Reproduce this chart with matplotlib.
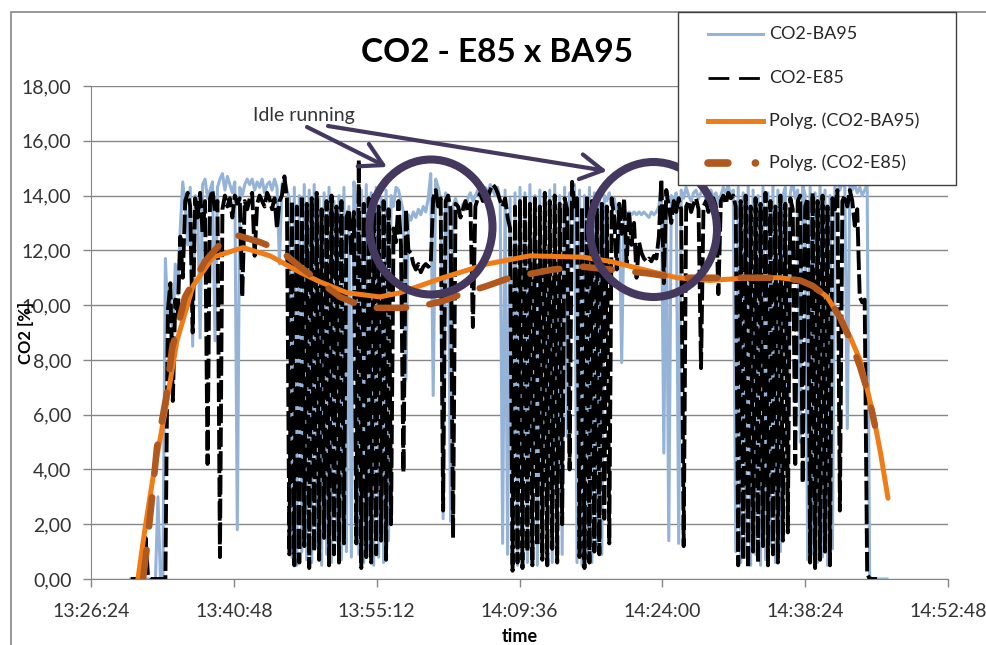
import numpy as np
import matplotlib
matplotlib.use("Agg")
import matplotlib.pyplot as plt
from matplotlib.ticker import FixedLocator, FuncFormatter, MultipleLocator
from matplotlib.patches import Ellipse, Rectangle, FancyArrowPatch
from matplotlib.lines import Line2D

plt.rcParams['font.family'] = ['Lato', 'DejaVu Sans']

# logger samples: one reading every 15 s starting 13:30:24
SAMPLE_START = "13:30:24"
SAMPLE_STEP = 15

# CO2 [%] with BA95 fuel
co2_ba95 = [
    0, 0, 0, 0, 0, 0, 0, 0, 0, 0, 0, 3.0,
    0, 0.1, 11.7, 9.5, 10.2, 8.9, 11.5, 10.4, 12.8, 14.5, 13.6, 12.2,
    14.3, 8.5, 14.0, 13.7, 8.8, 14.4, 14.6, 13.9, 14.2, 14.5, 8.7, 14.3,
    14.6, 14.8, 14.2, 14.7, 14.4, 14.1, 14.5, 1.8, 14.3, 14.0, 14.4, 14.6,
    14.4, 14.6, 14.2, 14.5, 14.3, 14.6, 14.1, 14.4, 14.5, 14.2, 14.6, 14.3,
    11.5, 14.4, 14.6, 14.2, 13.9, 0.8, 14.3, 0.5, 14.0, 1.0, 14.4, 0.7,
    14.2, 0.6, 14.4, 1.2, 13.9, 0.5, 14.1, 0.9, 14.3, 0.6, 13.8, 1.4,
    14.0, 0.7, 14.3, 1.0, 13.6, 0.8, 14.5, 13.8, 0.9, 14.2, 0.6, 14.4,
    1.1, 14.1, 0.5, 14.3, 0.8, 13.9, 0.6, 14.2, 1.4, 14.0, 13.6, 14.3,
    14.2, 13.8, 13.4, 7.3, 13.3, 13.1, 13.4, 13.2, 13.5, 13.3, 13.6, 13.4,
    13.9, 14.8, 6.7, 14.6, 14.3, 13.9, 2.2, 14.1, 13.8, 2.1, 13.6, 13.9,
    13.6, 13.4, 13.7, 13.5, 13.9, 14.1, 13.8, 14.0, 14.2, 13.9, 14.1, 14.3,
    14.1, 14.4, 14.2, 14.0, 14.3, 13.8, 1.3, 14.2, 0.9, 13.9, 0.7, 14.1,
    0.5, 14.3, 1.0, 14.1, 0.6, 14.4, 0.8, 14.0, 0.5, 14.2, 1.1, 13.9,
    0.7, 14.2, 0.6, 14.4, 1.0, 14.0, 0.9, 14.3, 5.2, 14.1, 13.8, 14.4,
    0.6, 14.2, 0.5, 14.0, 0.8, 14.3, 0.6, 14.1, 1.2, 14.2, 0.9, 14.0,
    13.8, 14.1, 13.6, 13.9, 13.4, 13.7, 7.9, 13.5, 13.3, 13.4, 13.3, 13.4,
    13.3, 13.4, 13.3, 13.4, 13.3, 13.2, 13.4, 13.3, 13.4, 13.6, 14.4, 4.6,
    14.2, 1.4, 14.0, 13.8, 14.1, 1.3, 14.2, 13.9, 14.3, 14.0, 13.8, 14.1,
    14.2, 13.9, 14.1, 14.3, 13.8, 14.0, 14.2, 13.9, 14.1, 13.7, 14.0, 14.3,
    14.1, 14.4, 13.9, 14.2, 1.0, 14.3, 0.6, 14.1, 0.8, 14.4, 0.5, 14.2,
    0.9, 14.0, 0.5, 14.3, 0.7, 14.1, 1.2, 14.4, 0.6, 14.2, 1.0, 14.0,
    14.3, 2.0, 14.1, 14.5, 13.9, 14.2, 5.0, 14.4, 14.0, 0.7, 14.3, 0.9,
    14.1, 0.6, 14.4, 0.8, 14.2, 0.5, 14.0, 1.1, 14.3, 14.6, 14.2, 14.5,
    14.3, 5.5, 14.6, 14.2, 14.4, 14.1, 14.3, 14.0, 14.2, 14.4, 0.1, 0.0,
    0, 0, 0, 0, 0, 0,
]

# CO2 [%] with E85 fuel
co2_e85 = [
    0, 0, 0, 0, 0, 0, 1.5, 0.1, 0, 0, 0, 0,
    0, 0, 0, 9.8, 10.8, 6.5, 10.2, 9.6, 12.5, 11.0, 13.8, 14.1,
    13.6, 9.0, 13.9, 13.2, 14.1, 12.6, 13.8, 4.2, 13.9, 14.2, 13.4, 13.8,
    0.8, 13.5, 14.0, 13.6, 13.9, 13.2, 14.0, 13.7, 13.9, 10.3, 13.8, 13.5,
    13.9, 14.1, 11.8, 13.7, 14.0, 13.8, 13.6, 14.1, 13.9, 13.5, 13.9, 12.8,
    13.8, 14.0, 14.7, 13.9, 0.9, 13.8, 0.5, 13.6, 0.6, 14.0, 1.2, 13.7,
    0.4, 13.9, 1.0, 14.1, 0.7, 13.5, 1.5, 13.8, 0.5, 14.0, 0.9, 13.6,
    0.6, 13.8, 1.3, 13.2, 13.5, 11.8, 13.4, 1.3, 15.3, 0.4, 13.7, 0.8,
    13.9, 0.6, 14.0, 0.9, 13.6, 1.4, 13.8, 0.7, 13.5, 2.0, 12.8, 12.3,
    13.8, 12.2, 3.9, 13.5, 12.0, 11.9, 11.5, 11.3, 11.5, 11.2, 11.4, 11.5,
    11.4, 11.5, 13.9, 14.2, 13.6, 13.9, 2.5, 13.8, 14.0, 13.5, 1.5, 13.7,
    13.6, 13.2, 13.5, 13.8, 13.4, 13.7, 9.2, 13.6, 13.9, 14.1, 13.8, 14.2,
    13.9, 14.2, 14.4, 14.3, 14.1, 13.8, 13.6, 13.9, 13.2, 12.8, 0.3, 13.6,
    0.6, 13.8, 0.4, 14.0, 1.0, 13.7, 0.5, 13.9, 1.2, 13.6, 0.7, 14.1,
    0.5, 13.8, 1.1, 14.0, 0.6, 13.7, 2.0, 13.9, 13.5, 4.0, 14.5, 13.6,
    13.9, 0.8, 13.6, 0.4, 14.0, 0.6, 13.8, 1.0, 13.5, 0.9, 13.7, 2.2,
    13.6, 1.3, 13.9, 13.2, 11.3, 13.7, 12.6, 13.9, 11.5, 13.4, 12.2, 13.0,
    11.0, 12.3, 11.9, 11.7, 11.6, 11.7, 11.6, 11.8, 11.7, 12.5, 14.6, 10.8,
    14.2, 13.6, 13.0, 13.8, 13.4, 13.9, 13.5, 1.2, 13.6, 13.8, 13.4, 13.7,
    13.9, 13.5, 7.7, 13.6, 13.8, 13.4, 13.7, 13.9, 13.6, 10.4, 13.8, 14.0,
    13.7, 14.1, 13.9, 14.0, 13.6, 0.5, 13.8, 0.7, 14.0, 0.4, 13.6, 1.0,
    13.9, 0.6, 13.7, 1.2, 14.1, 0.5, 13.8, 0.9, 13.6, 0.6, 14.0, 1.4,
    13.7, 1.7, 13.9, 13.5, 4.2, 13.8, 14.0, 3.5, 13.6, 13.9, 0.6, 14.1,
    0.4, 13.8, 0.7, 14.0, 1.0, 13.6, 0.5, 13.9, 13.5, 14.2, 2.5, 13.8,
    14.0, 13.6, 14.2, 13.8, 12.9, 13.5, 10.3, 10.1, 10.2, 0.2, 0.0, 0.0,
    0.0, 0.0,
]

# polynomial trendlines, seconds after 13:26:24
trend_ba95_t = [284, 327, 375, 448, 520, 617, 738, 919, 1083, 1264, 1385,
                1549, 1748, 1869, 2129, 2395, 2656, 2976, 3139, 3339, 3545,
                3745, 3986, 4168, 4289, 4367, 4452, 4531, 4591, 4652, 4730,
                4776, 4821]
trend_ba95 = [0.0, 1.85, 3.7, 6.1, 8.7, 10.7, 11.75, 12.1, 11.8, 11.2, 10.85,
              10.45, 10.3, 10.45, 11.0, 11.5, 11.8, 11.75, 11.6, 11.3, 11.0,
              10.9, 11.0, 11.0, 10.9, 10.7, 10.3, 9.55, 8.85, 8.0, 6.05,
              4.6, 2.95]

trend_e85_t = [315, 339, 363, 399, 454, 490, 569, 690, 792, 883, 1022, 1143,
               1264, 1385, 1506, 1627, 1730, 1869, 1990, 2129, 2262, 2395,
               2535, 2795, 2976, 3139, 3381, 3545, 3805, 3986, 4168, 4289,
               4367, 4452, 4531, 4591, 4652, 4700, 4742]
trend_e85 = [0.0, 1.2, 2.6, 4.8, 6.6, 8.4, 10.3, 11.6, 12.3, 12.55, 12.3, 12.0,
             11.4, 10.85, 10.3, 10.0, 9.9, 9.9, 9.95, 10.15, 10.45, 10.7,
             11.0, 11.3, 11.4, 11.3, 11.15, 11.0, 11.0, 11.0, 11.0, 10.9,
             10.7, 10.3, 9.55, 8.75, 7.75, 6.8, 5.6]

time_tick_labels = ["13:26:24", "13:40:48", "13:55:12", "14:09:36",
                    "14:24:00", "14:38:24", "14:52:48"]

purple = '#45385f'
blue = '#95b3d7'
orange = '#f07c17'
brown = '#b0581e'
grey = '#868686'


def to_seconds(hms):
    h, m, s = (int(p) for p in hms.split(':'))
    return h * 3600 + m * 60 + s


def fmt_time(sec, pos=None):
    sec = int(round(sec))
    return f"{sec // 3600}:{sec % 3600 // 60:02d}:{sec % 60:02d}"


W, H = 987, 645


def fx(x):
    return x / W


def fy(y):
    return 1 - y / H


tick_pos = [to_seconds(s) for s in time_tick_labels]
t0 = tick_pos[0]
start = to_seconds(SAMPLE_START)
t_ba95 = start + SAMPLE_STEP * np.arange(len(co2_ba95))
t_e85 = start + SAMPLE_STEP * np.arange(len(co2_e85))

fig = plt.figure(figsize=(W / 100, H / 100), dpi=100)
ax = fig.add_axes([fx(91), fy(579), (948 - 91) / W, (579 - 86) / H])

ax.plot(t_ba95, co2_ba95, color=blue, lw=2.2, zorder=2)
ax.plot(t_e85, co2_e85, color='black', lw=2.8, dashes=(5, 1.1), zorder=3)
ax.plot(t0 + np.array(trend_ba95_t), trend_ba95, color=orange, lw=3.6,
        solid_capstyle='round', zorder=4)
ax.plot(t0 + np.array(trend_e85_t), trend_e85, color=brown, lw=4.7,
        dashes=(4.5, 3.6), dash_capstyle='round', zorder=5)

ax.set_xlim(tick_pos[0], tick_pos[-1])
ax.set_ylim(0, 18)
ax.xaxis.set_major_locator(FixedLocator(tick_pos))
ax.xaxis.set_major_formatter(FuncFormatter(fmt_time))
ax.yaxis.set_major_locator(MultipleLocator(2))
ax.yaxis.set_major_formatter(FuncFormatter(lambda v, p: f"{v:.2f}".replace('.', ',')))

for side in ('top', 'right'):
    ax.spines[side].set_visible(False)
for side in ('left', 'bottom'):
    ax.spines[side].set_color(grey)
ax.yaxis.grid(True, color=grey, lw=1)
ax.set_axisbelow(True)
ax.tick_params(axis='both', direction='out', length=6, width=1, color=grey,
               labelsize=14, labelcolor='#333333')
ax.tick_params(axis='x', pad=11)
ax.tick_params(axis='y', pad=8)

ax.set_ylabel('CO2 [%]', fontsize=12, fontweight='bold')
ax.yaxis.set_label_coords(-0.066, 0.5)
ax.set_xlabel('time', fontsize=13, fontweight='bold', va='top')
ax.xaxis.set_label_coords(0.5, -0.1)

fig.text(fx(497), fy(52), 'CO2 - E85 x BA95', ha='center', va='center',
         fontsize=24, fontweight='bold')

# chart frame
fig.add_artist(Rectangle((fx(11), -0.05), 1.1, fy(12) + 0.05,
                         transform=fig.transFigure, fill=False,
                         edgecolor=grey, lw=1.2, zorder=0))

# idle running markers
fig.text(fx(304), fy(116), 'Idle running', ha='center', va='center',
         fontsize=14, color='#333333')
for (xa, ya), (xb, yb) in [((307, 127), (387, 167)), ((328, 126), (607, 171))]:
    fig.add_artist(FancyArrowPatch((fx(xa), fy(ya)), (fx(xb), fy(yb)),
                                   transform=fig.transFigure,
                                   arrowstyle='->,head_length=0.8,head_width=0.45',
                                   mutation_scale=20, color=purple, lw=3,
                                   shrinkA=0, shrinkB=0, zorder=6))
for cx, cy, w, h in [(431, 227, 123, 135), (653.5, 229.5, 127, 135)]:
    fig.add_artist(Ellipse((fx(cx), fy(cy)), w / W, h / H,
                           transform=fig.transFigure, fill=False,
                           edgecolor=purple, lw=5.8, zorder=6))

# legend box
fig.add_artist(Rectangle((fx(678), fy(185)), (956 - 678) / W, (185 - 12) / H,
                         transform=fig.transFigure, facecolor='white',
                         edgecolor='#404040', lw=1, zorder=10))
legend_rows = [
    ('CO2-BA95', dict(color=blue, lw=2.2)),
    ('CO2-E85', dict(color='black', lw=2.0, dashes=(7.5, 3.5))),
    ('Polyg. (CO2-BA95)', dict(color=orange, lw=3.6)),
    ('Polyg. (CO2-E85)', dict(color=brown, lw=5.5, dashes=(2.6, 3.6, 0.01, 5),
                              dash_capstyle='round')),
]
for (label, style), row_y in zip(legend_rows, [34, 78, 121, 163]):
    fig.add_artist(Line2D([fx(708), fx(763)], [fy(row_y)] * 2,
                          transform=fig.transFigure, zorder=11, **style))
    fig.text(fx(769), fy(row_y), label, ha='left', va='center', fontsize=13,
             color='#262626', zorder=12)

fig.savefig('out.png', dpi=100, facecolor='white')
